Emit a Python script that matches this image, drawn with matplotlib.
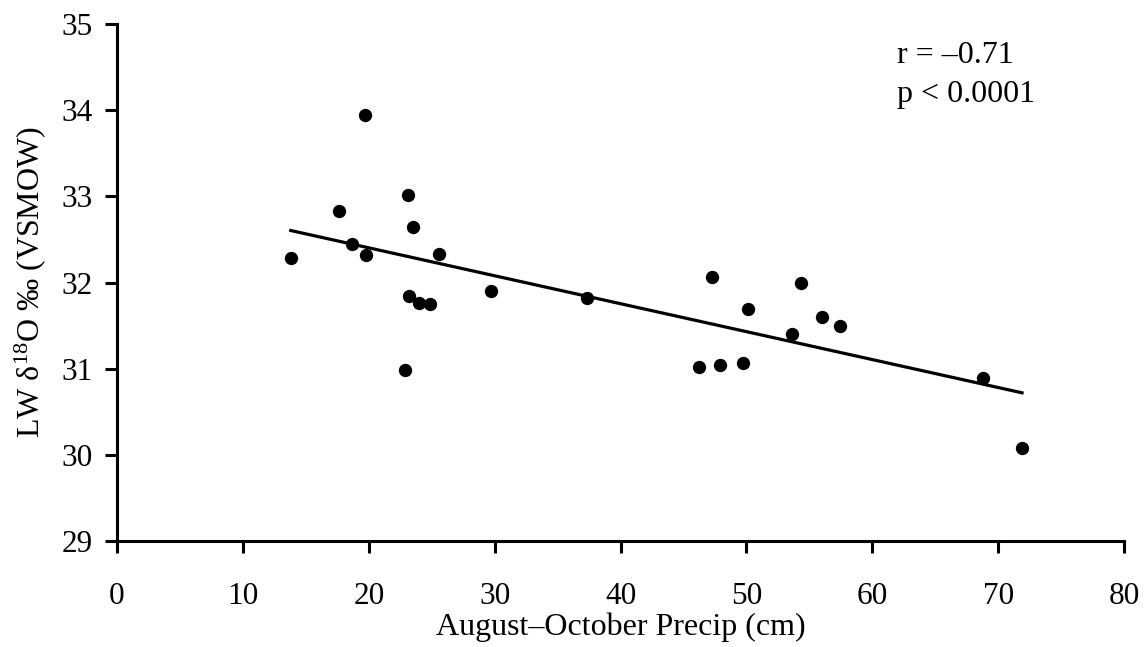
import numpy as np
import matplotlib
matplotlib.use("Agg")
import matplotlib.pyplot as plt

plt.rcParams['font.family'] = ['Liberation Serif', 'DejaVu Serif']
plt.rcParams['mathtext.fontset'] = 'custom'
plt.rcParams['mathtext.rm'] = 'Liberation Serif'
plt.rcParams['mathtext.it'] = 'Liberation Serif:italic'

# August–October precipitation (cm) and latewood d18O (per mil, VSMOW)
precip = [13.8, 17.6, 18.7, 19.8, 19.7, 23.1, 23.5, 25.6, 23.2, 24.0, 24.9,
          29.7, 37.3, 22.9, 47.3, 50.1, 46.2, 47.9, 49.7, 54.3, 56.0, 57.4,
          53.6, 68.8, 71.9]
d18o = [32.28, 32.83, 32.45, 32.32, 33.94, 33.01, 32.65, 32.33, 31.84, 31.76,
        31.75, 31.90, 31.82, 30.99, 32.06, 31.69, 31.02, 31.04, 31.07, 32.00,
        31.60, 31.50, 31.40, 30.89, 30.08]

x_ticks = [0, 10, 20, 30, 40, 50, 60, 70, 80]
y_ticks = [29, 30, 31, 32, 33, 34, 35]
stats_text = ["r = \u20130.71", "p < 0.0001"]

fig = plt.figure(figsize=(11.46, 6.47), dpi=100)
ax = fig.add_axes([0.1021, 0.1638, 0.8787, 0.7991])

x = np.array(precip)
y = np.array(d18o)
ax.scatter(x, y, s=92, color='black', zorder=3, linewidths=0)

# least-squares fit over the observed range
slope, intercept = np.polyfit(x, y, 1)
xf = np.array([x.min(), x.max()])
ax.plot(xf, slope * xf + intercept, color='black', lw=2.3, zorder=2)

ax.set_xlim(0, 80)
ax.set_ylim(29, 35)
ax.set_xticks(x_ticks)
ax.set_yticks(y_ticks)
for s in ['top', 'right']:
    ax.spines[s].set_visible(False)
for s in ['left', 'bottom']:
    ax.spines[s].set_linewidth(2.2)
ax.tick_params(direction='out', length=8.5, width=2.2, labelsize=22.5)
ax.tick_params(axis='y', pad=9)
ax.tick_params(axis='x', pad=21)

ax.set_xlabel('August\u2013October Precip (cm)', fontsize=23, labelpad=1)
ax.set_ylabel('LW \u03b4$^{18}$O $\\mathit{\u2030}$ (VSMOW)', fontsize=23, labelpad=10)

ax.text(62.0, 34.55, stats_text[0], fontsize=23, ha='left', va='baseline')
ax.text(62.0, 34.095, stats_text[1], fontsize=23, ha='left', va='baseline')

fig.savefig('out.png', dpi=100)
